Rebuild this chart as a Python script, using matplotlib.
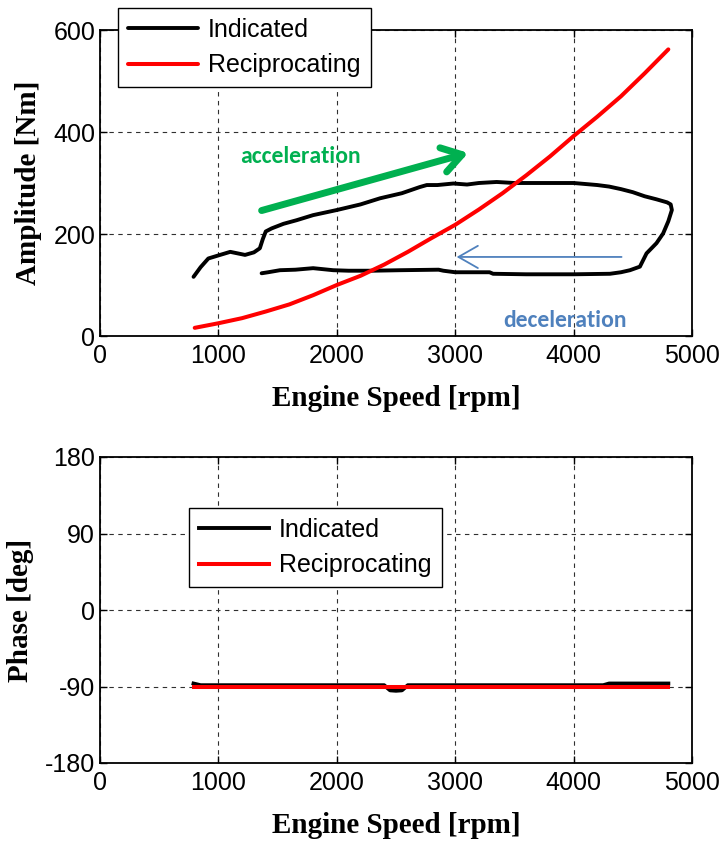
import numpy as np
import matplotlib
matplotlib.use('Agg')
import matplotlib.pyplot as plt
from matplotlib import font_manager

# engine speed grid for the reciprocating (inertia) torque
rpm_rec = [800, 1000, 1200, 1400, 1600, 1800, 2000, 2200, 2400, 2600, 2800,
           3000, 3200, 3400, 3600, 3800, 4000, 4200, 4400, 4600, 4800]
amp_rec = [16, 25, 35, 48, 62, 80, 100, 118, 140, 165, 192,
           218, 248, 280, 315, 352, 392, 430, 470, 515, 562]

# indicated torque amplitude: run-up then run-down
rpm_ind = [790, 850, 915, 1000, 1100, 1225, 1300, 1350, 1375, 1400, 1450, 1550,
           1660, 1800, 2000, 2200, 2365, 2550, 2700, 2760, 2850, 2985, 3100, 3200,
           3350, 3500, 3700, 4000, 4200, 4300, 4400, 4500, 4600, 4700, 4790, 4820,
           4830, 4800, 4756, 4700, 4616, 4560, 4476, 4400, 4307, 4000, 3600, 3320,
           3290, 3000, 2900, 2860, 2534, 2300, 2100, 1970, 1800, 1650, 1520, 1420, 1365]
amp_ind = [116, 135, 152, 158, 165, 159, 164, 172, 190, 205, 211, 220,
           227, 237, 247, 258, 270, 280, 292, 296, 296, 299, 297, 300,
           302, 300, 300, 300, 296, 293, 288, 282, 274, 268, 262, 258,
           247, 225, 201, 182, 162, 136, 129, 125, 122, 121, 121, 122,
           125, 125, 128, 130, 129, 128, 128, 129, 133, 130, 129, 125, 123]

# phase of both components
rpm_ph = [790, 850, 1000, 2000, 2400, 2450, 2500, 2550, 2600, 3000, 4000, 4250, 4300, 4800]
ph_ind = [-86.5, -88.5, -88.5, -88.5, -88.5, -94.5, -95, -94.5, -88.5, -88.5, -88.5, -88.5, -86.5, -86.5]
ph_rec = [-91, -91, -91, -91, -91, -91, -91, -91, -91, -91, -91, -91, -91, -91]

names = [f.name for f in font_manager.fontManager.ttflist]
note_font = 'Carlito' if 'Carlito' in names else 'Lato'
plt.rcParams['font.family'] = 'Liberation Sans'
plt.rcParams['axes.unicode_minus'] = False
tick_fs = 18

fig = plt.figure(figsize=(7.21, 8.43), dpi=100)
W, H = 721, 843
ax1 = fig.add_axes([100 / W, 1 - 336 / H, 592 / W, 306 / H])
ax2 = fig.add_axes([100 / W, 1 - 763 / H, 592 / W, 306 / H])

label_kw = dict(family='Liberation Serif', weight='bold', fontsize=21)

for ax in (ax1, ax2):
    ax.set_xlim(0, 5000)
    ax.set_xticks([0, 1000, 2000, 3000, 4000, 5000])
    ax.grid(True, color='#303030', linestyle=(0, (4, 4)), linewidth=0.8)
    ax.tick_params(direction='in', top=True, right=True, length=5,
                   labelsize=tick_fs, width=1)
    ax.tick_params(axis='x', pad=6)
    for s in ax.spines.values():
        s.set_linewidth(1.3)
    ax.set_xlabel('Engine Speed [rpm]', labelpad=12, **label_kw)

# amplitude
ax1.plot(rpm_ind, amp_ind, color='black', lw=2.8, label='Indicated',
         solid_capstyle='round', solid_joinstyle='round')
ax1.plot(rpm_rec, amp_rec, color='red', lw=2.9, label='Reciprocating',
         solid_capstyle='round')
ax1.set_ylim(0, 600)
ax1.set_yticks([0, 200, 400, 600])
ax1.set_ylabel('Amplitude [Nm]', labelpad=8, **label_kw)

ax1.annotate('', xy=(3110, 359), xytext=(1365, 246),
             arrowprops=dict(arrowstyle='->,head_length=0.7,head_width=0.45',
                             color='#00B050', lw=5, mutation_scale=20,
                             shrinkA=0, shrinkB=0))
ax1.annotate('', xy=(3012, 155), xytext=(4405, 155),
             arrowprops=dict(arrowstyle='->,head_length=0.7,head_width=0.4',
                             color='#4F81BD', lw=1.3, mutation_scale=20,
                             shrinkA=0, shrinkB=0))
ax1.text(1690, 352, 'acceleration', color='#00B050', family=note_font,
         weight='bold', fontsize=17, ha='center', va='center')
ax1.text(3930, 31, 'deceleration', color='#4F81BD', family=note_font,
         weight='bold', fontsize=17, ha='center', va='center')

leg_kw = dict(loc='upper left', bbox_transform=fig.transFigure, borderaxespad=0,
              fontsize=tick_fs, fancybox=False, framealpha=1, edgecolor='black',
              handlelength=2.8, handletextpad=0.4, labelspacing=0.45,
              borderpad=0.4)
leg1 = ax1.legend(bbox_to_anchor=(118 / W, 1 - 8 / H), **leg_kw)
leg1.get_frame().set_linewidth(1.0)
leg1.set_zorder(10)

# phase
ax2.plot(rpm_ph, ph_ind, color='black', lw=2.8, label='Indicated')
ax2.plot(rpm_ph, ph_rec, color='red', lw=2.9, label='Reciprocating')
ax2.set_ylim(-180, 180)
ax2.set_yticks([-180, -90, 0, 90, 180])
ax2.set_ylabel('Phase [deg]', labelpad=8, **label_kw)

leg2 = ax2.legend(bbox_to_anchor=(189 / W, 1 - 508 / H), **leg_kw)
leg2.get_frame().set_linewidth(1.0)

fig.savefig('out.png', dpi=100)
